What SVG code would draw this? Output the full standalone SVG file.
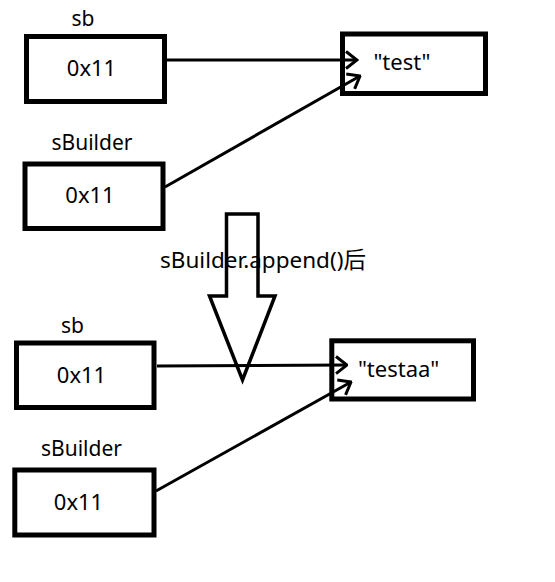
<svg xmlns="http://www.w3.org/2000/svg" width="555" height="582" viewBox="0 0 555 582">
<style>
.box{fill:none;stroke:#000;stroke-width:5}
.lbl{font-family:"Noto Sans","Noto Sans CJK SC",sans-serif;font-size:21px;fill:#000;text-anchor:middle}
.val{font-family:"Noto Sans","Noto Sans CJK SC",sans-serif;font-size:22px;fill:#000;text-anchor:middle}
.big{font-family:"Noto Sans","Noto Sans CJK SC",sans-serif;font-size:22.5px;fill:#000;text-anchor:middle}
.conn{fill:none;stroke:#000;stroke-width:3;marker-end:url(#open)}
</style>
<defs>
<marker id="open" viewBox="0 0 14 20" refX="12.5" refY="10" markerWidth="14" markerHeight="20" markerUnits="userSpaceOnUse" orient="auto">
<path d="M1.5,1.5 L12.5,10 L1.5,18.5" fill="none" stroke="#000" stroke-width="3"/>
</marker>
</defs>
<rect width="555" height="582" fill="#fff"/>
<g id="sb1">
<text class="lbl" x="83" y="26">sb</text>
<rect class="box" x="26.5" y="36.5" width="138" height="65"/>
<text class="val" x="91.5" y="76">0x11</text>
</g>
<g id="sBuilder1">
<text class="lbl" x="92" y="150">sBuilder</text>
<rect class="box" x="25" y="164" width="138" height="64.5"/>
<text class="val" x="90" y="203">0x11</text>
</g>
<g id="test">
<rect class="box" x="342.5" y="34" width="143" height="59.5"/>
<text class="val" x="402" y="70">"test"</text>
</g>
<g id="transition">
<polygon points="226.5,214 258,214 258,296 275,296 242.5,380 209.5,296 226.5,296" fill="none" stroke="#000" stroke-width="3.5"/>
<text class="big" x="263" y="268">sBuilder.append()后</text>
</g>
<g id="sb2">
<text class="lbl" x="72.5" y="333">sb</text>
<rect class="box" x="16.5" y="343" width="137.5" height="64.5"/>
<text class="val" x="81.5" y="383">0x11</text>
</g>
<g id="sBuilder2">
<text class="lbl" x="81.5" y="456">sBuilder</text>
<rect class="box" x="14.8" y="470" width="139.2" height="65"/>
<text class="val" x="78.5" y="510">0x11</text>
</g>
<g id="testaa">
<rect class="box" x="331.8" y="340.8" width="141.7" height="58.2"/>
<text class="val" x="398.5" y="377">"testaa"</text>
</g>
<g id="connectors">
<line class="conn" x1="167" y1="60" x2="357" y2="60"/>
<line class="conn" x1="165" y1="187" x2="360" y2="76"/>
<line class="conn" x1="157" y1="366" x2="347" y2="365"/>
<line class="conn" x1="156" y1="491" x2="351" y2="382"/>
</g>
</svg>
